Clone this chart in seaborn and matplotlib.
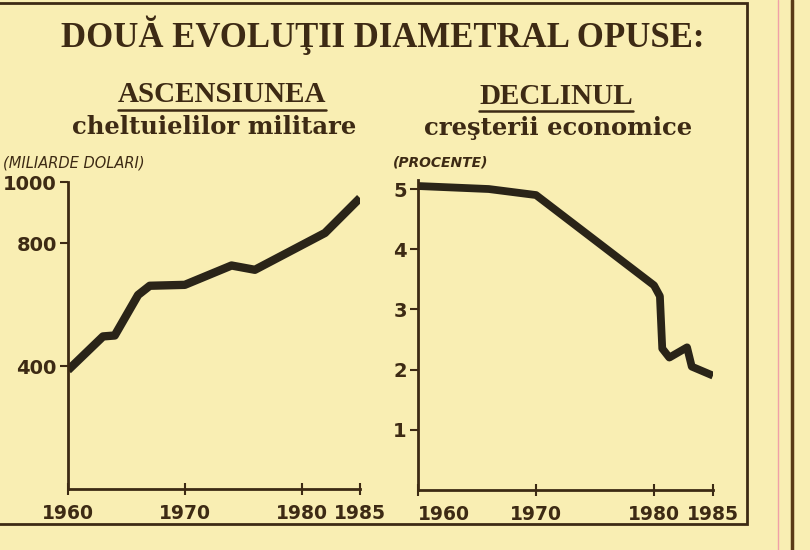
import numpy as np
import pandas as pd
import matplotlib
matplotlib.use("Agg")
import matplotlib.pyplot as plt
from matplotlib.lines import Line2D
from matplotlib.patches import Rectangle
import seaborn as sns

# Datos
ani_cheltuieli = [1960, 1963, 1964, 1966, 1967, 1970, 1974, 1976, 1982, 1985]
cheltuieli = [387, 497, 500, 632, 662, 665, 728, 714, 834, 948]

ani_crestere = [1960, 1966, 1970, 1980, 1980.5, 1980.7, 1981.3, 1982.8, 1983.2, 1985]
crestere = [5.05, 5.0, 4.9, 3.4, 3.22, 2.35, 2.2, 2.37, 2.05, 1.9]

ticks_ani = [1960, 1970, 1980, 1985]
ticks_cheltuieli = [400, 800, 1000]
ticks_crestere = [1, 2, 3, 4, 5]

df_st = pd.DataFrame({"an": ani_cheltuieli, "valoare": cheltuieli})
df_dr = pd.DataFrame({"an": ani_crestere, "valoare": crestere})

hartie = "#f9eeb3"
maro = "#3d2a14"
linie = "#2a2418"

sns.set_style("ticks", {"axes.facecolor": "none", "figure.facecolor": hartie,
                        "axes.edgecolor": maro, "xtick.color": maro, "ytick.color": maro})
plt.rcParams["font.family"] = ["DejaVu Sans"]

W, H = 810, 550
fig = plt.figure(figsize=(W / 100, H / 100), dpi=100)
fig.patch.set_facecolor(hartie)


def fx(px):
    return px / W


def fy(py):
    return 1 - py / H


# axa stanga: 1960 la x=68, 1985 la x=360; 0 la y=489, 1000 la y=182
ax1 = fig.add_axes([fx(68), fy(489), fx(360 - 68), (489 - 182) / H])
# axa dreapta: 1960 la x=418, 1985 la x=713; 0 la y=490, 5.15 la y=180
ax2 = fig.add_axes([fx(418), fy(490), fx(713 - 418), (490 - 180) / H])

sns.lineplot(data=df_st, x="an", y="valoare", ax=ax1, color=linie, linewidth=6,
             solid_joinstyle="round", solid_capstyle="butt")
sns.lineplot(data=df_dr, x="an", y="valoare", ax=ax2, color=linie, linewidth=5.6,
             solid_joinstyle="round", solid_capstyle="butt")

ax1.set_xlim(1960, 1985)
ax1.set_ylim(0, 1000)
ax2.set_xlim(1960, 1985)
ax2.set_ylim(0, 5.15)

for ax, yt in [(ax1, ticks_cheltuieli), (ax2, ticks_crestere)]:
    ax.set_xticks(ticks_ani)
    ax.set_xticklabels([str(a) for a in ticks_ani])
    ax.set_yticks(yt)
    ax.set_yticklabels([str(v) for v in yt])
    ax.set_xlabel("")
    ax.set_ylabel("")
    sns.despine(ax=ax)
    for s in ["left", "bottom"]:
        ax.spines[s].set_linewidth(2)
        ax.spines[s].set_color(maro)
    ax.tick_params(axis="x", direction="inout", length=8, width=1.5, pad=7,
                   labelsize=13.5, labelcolor=maro)
    ax.tick_params(axis="y", direction="out", length=6, width=1.5, pad=2,
                   labelsize=14, labelcolor=maro)
    for t in ax.get_xticklabels() + ax.get_yticklabels():
        t.set_fontweight("bold")

ax2.get_xticklabels()[0].set_horizontalalignment("left")
ax2.spines["left"].set_bounds(0, 5.15)

# titluri
fig.text(fx(383), fy(35), "DOUĂ EVOLUŢII DIAMETRAL OPUSE:", ha="center", va="center",
         fontsize=25, fontweight="bold", family="Liberation Serif", color=maro)

sub1 = fig.text(fx(222), fy(95), "ASCENSIUNEA", ha="center", va="center",
                fontsize=21, fontweight="bold", family="Liberation Serif", color=maro)
fig.text(fx(214), fy(127), "cheltuielilor militare", ha="center", va="center",
         fontsize=17.5, fontweight="bold", family="DejaVu Serif", color=maro)
sub2 = fig.text(fx(556), fy(96), "DECLINUL", ha="center", va="center",
                fontsize=21, fontweight="bold", family="Liberation Serif", color=maro)
fig.text(fx(558), fy(128), "creşterii economice", ha="center", va="center",
         fontsize=17.5, fontweight="bold", family="DejaVu Serif", color=maro)

fig.text(fx(3), fy(163), "(MILIARDE DOLARI)", ha="left", va="center",
         fontsize=10.5, style="italic", color=maro)
fig.text(fx(393), fy(163), "(PROCENTE)", ha="left", va="center",
         fontsize=10, style="italic", fontweight="bold", color=maro)

# sublinieri
fig.canvas.draw()
rend = fig.canvas.get_renderer()
for t in [sub1, sub2]:
    bb = t.get_window_extent(rend)
    yy = bb.y0 - 1
    fig.add_artist(Line2D([bb.x0 / W, bb.x1 / W], [yy / H, yy / H],
                          transform=fig.transFigure, color=maro, linewidth=1.8))

# chenar si linii de pagina
fig.add_artist(Rectangle((fx(-10), fy(524)), fx(747 + 10), (524 - 3) / H,
                         transform=fig.transFigure, fill=False, edgecolor=maro, linewidth=2))
fig.add_artist(Line2D([fx(778), fx(778)], [0, 1], transform=fig.transFigure,
                      color="#f0a0a8", linewidth=1))
fig.add_artist(Line2D([fx(792), fx(792)], [0, 1], transform=fig.transFigure,
                      color="#5a3a16", linewidth=2.5))

fig.savefig("out.png", dpi=100, facecolor=hartie)
